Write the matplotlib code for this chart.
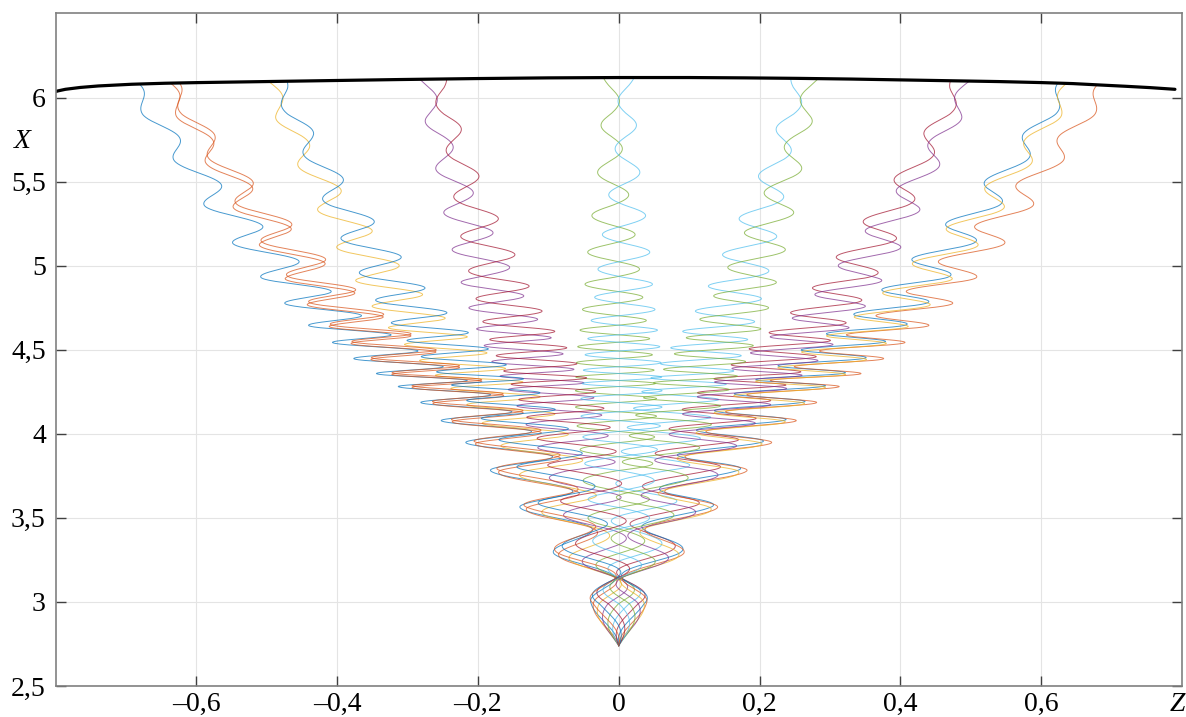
import numpy as np
import matplotlib.pyplot as plt
from matplotlib.transforms import blended_transform_factory

plt.rcParams['font.family'] = ['Liberation Serif', 'DejaVu Serif']

# levels X where the gyration phase reaches n*pi (turning points of the outer line)
phase_x = [2.74, 2.988, 3.143, 3.286, 3.435, 3.56, 3.66, 3.78, 3.865, 3.946,
           4.015, 4.077, 4.132, 4.185, 4.233, 4.28, 4.318, 4.357, 4.40, 4.446,
           4.494, 4.542, 4.59, 4.643, 4.705, 4.774, 4.85, 4.929, 5.03, 5.131,
           5.24, 5.357, 5.49, 5.625, 5.77, 5.90, 6.06, 6.25]

# spread of the guiding centres (for sin(angle) = 1)
spread_x = [2.74, 2.988, 3.143, 3.286, 3.435, 3.56, 3.69, 3.78, 3.88, 3.946,
            4.02, 4.077, 4.185, 4.28, 4.357, 4.446, 4.542, 4.643, 4.774, 4.929,
            5.131, 5.357, 5.625, 5.9, 6.25]
spread_z = [0.012, 0.021, 0.032, 0.056, 0.078, 0.096, 0.117, 0.132, 0.148, 0.164,
            0.18, 0.195, 0.223, 0.256, 0.288, 0.322, 0.355, 0.393, 0.431, 0.469,
            0.514, 0.562, 0.614, 0.663, 0.72]

# gyration radius
radius_x = [2.74, 2.99, 3.29, 3.56, 3.78, 3.95, 4.08, 4.2, 4.35, 4.5,
            4.65, 4.84, 5.02, 5.2, 5.4, 5.6, 5.8, 6.25]
radius_z = [0.012, 0.018, 0.036, 0.044, 0.05, 0.053, 0.057, 0.058, 0.056, 0.053,
            0.047, 0.041, 0.037, 0.032, 0.025, 0.018, 0.014, 0.011]

# launch angles of the particles (degrees) and their colours
launch_deg = [-91, -68.5, -46, -23.5, -1, 21.5, 44, 66.5,
              89, 111.5, 134, 156.5, 179, 201.5, 224, 246.5]
line_colors = ['#0072BD', '#D95319', '#EDB120', '#7E2F8E', '#77AC30', '#4DBEEE', '#A2142F',
               '#0072BD', '#D95319', '#EDB120', '#7E2F8E', '#77AC30', '#4DBEEE', '#A2142F',
               '#0072BD', '#D95319']

# black boundary curve
boundary_z = [-0.806, -0.796, -0.786, -0.765, -0.739, -0.692, -0.645, -0.597, -0.502,
              -0.408, -0.313, -0.2, -0.1, 0.0, 0.1, 0.18, 0.256, 0.33, 0.4, 0.47,
              0.54, 0.6, 0.645, 0.682, 0.72, 0.755, 0.79]
boundary_x = [6.029, 6.040, 6.049, 6.060, 6.069, 6.079, 6.085, 6.089, 6.095,
              6.101, 6.107, 6.113, 6.117, 6.119, 6.119, 6.117, 6.114, 6.110, 6.105, 6.100,
              6.095, 6.089, 6.083, 6.075, 6.067, 6.059, 6.049]

xticks = [-0.6, -0.4, -0.2, 0, 0.2, 0.4, 0.6]
xlabels = ['\u20130,6', '\u20130,4', '\u20130,2', '0', '0,2', '0,4', '0,6']
yticks = [2.5, 3, 3.5, 4, 4.5, 5, 5.5, 6]
ylabels = ['2,5', '3', '3,5', '4', '4,5', '5', '5,5', '6']

fig = plt.figure(figsize=(11.86, 7.17), dpi=100)
ax = fig.add_axes([0.0468, 0.0432, 0.9498, 0.938])

X = np.linspace(2.74, 6.2, 8000)
phi = np.interp(X, phase_x, np.arange(len(phase_x)) * np.pi)
S = np.interp(X, spread_x, spread_z)
r = np.interp(X, radius_x, radius_z)

for a_deg, col in zip(launch_deg, line_colors):
    a = np.radians(a_deg)
    z = S * np.sin(a) - r * np.sin(a + phi)
    top = np.interp(z, boundary_z, boundary_x)
    out = np.nonzero(X > top)[0]
    n = out[0] if len(out) else len(X)
    ax.plot(z[:n], X[:n], color=col, lw=0.7, alpha=0.72)

ax.plot(boundary_z, boundary_x, color='black', lw=2.3, solid_capstyle='round')

ax.set_xlim(-0.8, 0.8)
ax.set_ylim(2.5, 6.5)
ax.set_xticks(xticks, xlabels)
ax.set_yticks(yticks, ylabels)
ax.grid(True, color='#e4e4e4', lw=0.8)
ax.set_axisbelow(True)
ax.tick_params(direction='in', length=7, width=1, color='#404040',
               top=True, right=True, labelsize=20)
ax.tick_params(axis='x', pad=4)
ax.tick_params(axis='y', pad=7)
for sp in ax.spines.values():
    sp.set_color('#808080')
    sp.set_linewidth(1.2)

ax.text(-0.029, 5.736, 'X', transform=blended_transform_factory(ax.transAxes, ax.transData),
        fontsize=20, fontstyle='italic', ha='center', va='center')
ax.annotate('Z', xy=(0.8, 0), xycoords=('data', 'axes fraction'), xytext=(-3, -4),
            textcoords='offset points', ha='center', va='top', fontsize=20,
            fontstyle='italic')

fig.savefig('out.png', dpi=100)
